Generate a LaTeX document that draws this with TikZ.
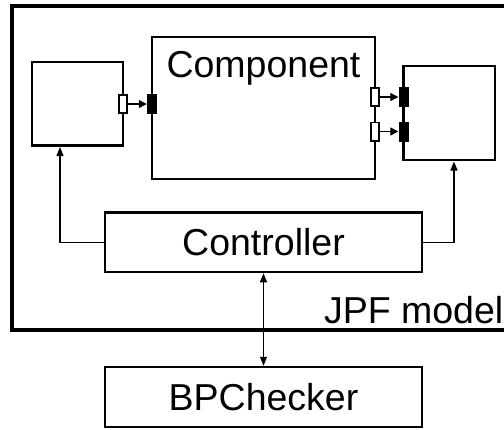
\documentclass[tikz,border=0pt]{standalone}
\usepackage{fontspec}
\setmainfont{Liberation Sans}
\usetikzlibrary{arrows.meta}
\begin{document}
\begin{tikzpicture}[x=1pt,y=-1pt,
  box/.style={draw, line width=2.5pt, inner sep=0pt},
  frame/.style={draw, line width=4pt, inner sep=0pt},
  big/.style={font=\fontsize{37.5}{45}\selectfont, inner sep=0pt},
  hport/.style={draw, fill=white, line width=1.8pt, minimum width=8.2pt, minimum height=18.2pt, inner sep=0pt},
  fport/.style={fill=black, minimum width=10pt, minimum height=20pt, inner sep=0pt},
  conn/.style={line width=1.2pt},
  tip/.style={-{Triangle[length=9pt,width=7pt]}},
  ptip/.style={-{Triangle[length=8pt,width=8pt]}}]
\useasboundingbox (0,0) rectangle (504,429);
% JPF model frame (right side beyond the picture)
\node[frame, minimum width=500pt, minimum height=324pt] (jpf) at (262,168) {};
\node[big, anchor=base east] (jpflabel) at (503.5,323) {JPF model};
% boxes
\node[box, minimum width=91pt, minimum height=83.5pt] (lbox) at (77.5,103.75) {};
\node[box, minimum width=223pt, minimum height=142pt] (comp) at (263.5,108) {};
\node[big, anchor=base] (complabel) at (263.5,77) {Component};
\node[box, minimum width=91.5pt, minimum height=94pt] (rbox) at (449.25,113) {};
\node[box, big, minimum width=317pt, minimum height=59.5pt] (ctrl) at (263.5,242.25) {Controller};
\node[box, big, minimum width=317pt, minimum height=60pt] (bp) at (263.5,397) {BPChecker};
% ports
\node[hport] (lp1) at (123,104) {};
\node[fport] (lp2) at (152,104) {};
\node[hport] (rp1) at (375,97) {};
\node[fport] (rq1) at (403.5,97) {};
\node[hport] (rp2) at (375,131.5) {};
\node[fport] (rq2) at (403.5,131.5) {};
\draw[conn, ptip] (lp1.east) -- (lp2.west);
\draw[conn, ptip] (rp1.east) -- (rq1.west);
\draw[conn, ptip] (rp2.east) -- (rq2.west);
% controller links
\coordinate (la) at (60,147);
\coordinate (ra) at (454,161.5);
\draw[conn, tip] (ctrl.west) -| (la);
\draw[conn, tip] (ctrl.east) -| (ra);
\draw[conn, {Triangle[length=9pt,width=7pt]}-{Triangle[length=9pt,width=7pt]}] (ctrl.south) -- (bp.north);
\end{tikzpicture}
\end{document}
